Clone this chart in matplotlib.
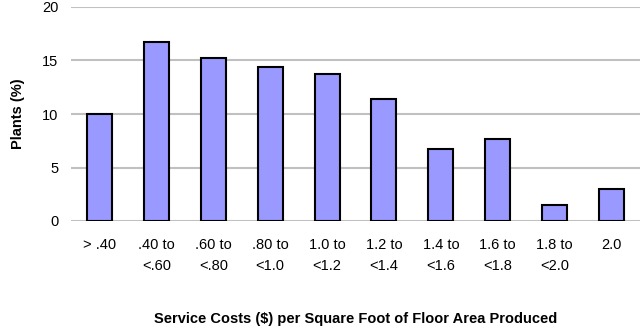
import matplotlib
matplotlib.use("Agg")
import matplotlib.pyplot as plt
import numpy as np

plt.rcParams['font.family'] = ['Liberation Sans', 'DejaVu Sans']

categories = ["> .40", ".40 to\n<.60", ".60 to\n<.80", ".80 to\n<1.0", "1.0 to\n<1.2",
              "1.2 to\n<1.4", "1.4 to\n<1.6", "1.6 to\n<1.8", "1.8 to\n<2.0", "2.0"]
values = [10.0, 16.7, 15.2, 14.4, 13.7, 11.4, 6.7, 7.7, 1.5, 3.0]
yticks = [0, 5, 10, 15, 20]

fig = plt.figure(figsize=(6.4, 3.31), dpi=100)
ax = fig.add_axes([71/640, 1 - 221/331, (640-71)/640, (221-7)/331])

x = np.arange(len(categories))
ax.bar(x, values, width=0.44, color="#9999FF", edgecolor="black", linewidth=1.5, zorder=3)

ax.set_xlim(-0.5, len(categories) - 0.5)
ax.set_ylim(0, 20)
ax.set_yticks(yticks)
ax.set_xticks(x)
ax.set_xticklabels(categories, fontsize=10.5, linespacing=1.7)
ax.tick_params(axis='y', length=0, pad=9, labelsize=10.5)
ax.tick_params(axis='x', length=0, pad=12)
for s in ax.spines.values():
    s.set_visible(False)
ax.yaxis.grid(True, color="#c0c0c0", linewidth=1.5, zorder=0)
ax.set_axisbelow(True)

ax.set_ylabel("Plants (%)", fontsize=10.5, fontweight="bold", labelpad=12)
ax.set_xlabel("Service Costs ($) per Square Foot of Floor Area Produced",
              fontsize=10.5, fontweight="bold", labelpad=28)

fig.savefig("out.png", dpi=100)
